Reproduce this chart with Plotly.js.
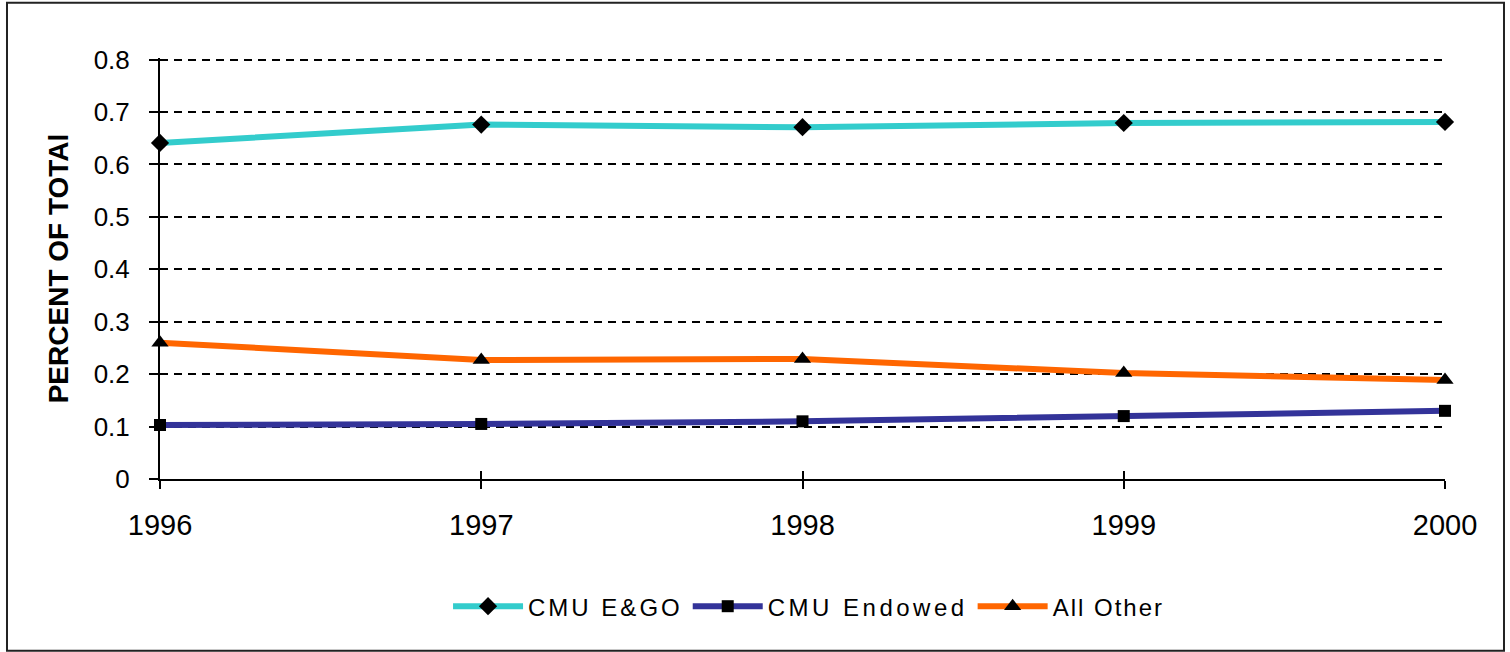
<!DOCTYPE html>
<html>
<head>
<meta charset="utf-8">
<script src="https://cdn.plot.ly/plotly-3.0.1.min.js"></script>
<style>html,body{margin:0;padding:0;background:#fff;}#chart{width:1510px;height:652px;}</style>
</head>
<body>
<div id="chart"></div>
<script>
const years = [1996, 1997, 1998, 1999, 2000];
const cmuEGO = [0.641, 0.676, 0.671, 0.679, 0.681];
const cmuEndowed = [0.103, 0.105, 0.110, 0.120, 0.130];
const allOther = [0.260, 0.227, 0.229, 0.202, 0.189];
const seriesNames = ['CMU E&GO', 'CMU Endowed', 'All Other'];
const yTicks = [0, 0.1, 0.2, 0.3, 0.4, 0.5, 0.6, 0.7, 0.8];
const yTickText = ['0', '0.1', '0.2', '0.3', '0.4', '0.5', '0.6', '0.7', '0.8'];
const xTickText = ['1996', '1997', '1998', '1999', '2000'];

const font = 'Liberation Sans, Arial, sans-serif';
const spaced = (s, px) => '<span style="letter-spacing:' + px + 'px">' + s + '</span>';

const traces = [
  {x: years, y: cmuEGO, name: spaced(seriesNames[0], 3), type: 'scatter', mode: 'lines+markers', cliponaxis: false,
   line: {color: '#33CCCC', width: 6}, marker: {symbol: 'diamond', size: 14, color: '#000000'}},
  {x: years, y: cmuEndowed, name: spaced(seriesNames[1], 3.5), type: 'scatter', mode: 'lines+markers', cliponaxis: false,
   line: {color: '#333399', width: 6}, marker: {symbol: 'square', size: 12, color: '#000000'}},
  {x: years, y: allOther, name: spaced(seriesNames[2], 2), type: 'scatter', mode: 'lines+markers', cliponaxis: false,
   line: {color: '#FF6600', width: 6}, marker: {symbol: 'triangle-up', size: 15, color: '#000000'}},
  // invisible carrier so the inner tick marks (overlay axes) get drawn
  {x: years, y: cmuEGO, xaxis: 'x2', yaxis: 'y2', type: 'scatter', mode: 'none', showlegend: false, hoverinfo: 'skip'}
];

const yMax = 0.803;

const layout = {
  width: 1510, height: 652,
  margin: {l: 160, r: 65, t: 58, b: 173},
  paper_bgcolor: '#ffffff', plot_bgcolor: '#ffffff',
  font: {family: font, color: '#000000'},
  showlegend: true,
  legend: {orientation: 'h', x: 0.5047, y: -0.3031, xanchor: 'center', yanchor: 'middle',
           font: {family: font, size: 24, color: '#000000'}, itemwidth: 70, bgcolor: 'rgba(0,0,0,0)'},
  xaxis: {range: [1996, 2000], tickvals: years, ticktext: xTickText, showgrid: false, zeroline: false,
          showline: true, linecolor: '#000000', linewidth: 2, ticks: 'outside', ticklen: 8, tickwidth: 2,
          tickcolor: '#000000', tickfont: {family: font, size: 29, color: '#000000'}, ticklabelstandoff: 11},
  yaxis: {range: [0, yMax], tickvals: yTicks, ticktext: yTickText, showgrid: true, gridcolor: '#000000',
          gridwidth: 2, griddash: '8px,6px', zeroline: false, showline: true, linecolor: '#000000', linewidth: 2,
          ticks: 'outside', ticklen: 9, tickwidth: 2, tickcolor: '#000000',
          tickfont: {family: font, size: 26, color: '#000000'}, ticklabelstandoff: 14,
          title: {text: 'PERCENT OF TOTAl', font: {family: font, size: 28, color: '#000000', weight: 'bold'}, standoff: 17}},
  xaxis2: {overlaying: 'x', range: [1996, 2000], tickvals: years, showticklabels: false, showgrid: false,
           zeroline: false, showline: false, ticks: 'inside', ticklen: 8, tickwidth: 2, tickcolor: '#000000', anchor: 'y2', side: 'bottom'},
  yaxis2: {overlaying: 'y', range: [0, yMax], tickvals: yTicks, showticklabels: false, showgrid: false,
           zeroline: false, showline: false, ticks: 'inside', ticklen: 4, tickwidth: 2, tickcolor: '#000000', anchor: 'x2', side: 'left'},
  shapes: [{type: 'rect', xref: 'paper', yref: 'paper', x0: -0.11907, x1: 1.04591, y0: -0.40811, y1: 1.13126,
            line: {color: '#222222', width: 2}, fillcolor: 'rgba(0,0,0,0)', layer: 'above'}]
};

Plotly.newPlot('chart', traces, layout, {displayModeBar: false, staticPlot: true});
</script>
</body>
</html>
